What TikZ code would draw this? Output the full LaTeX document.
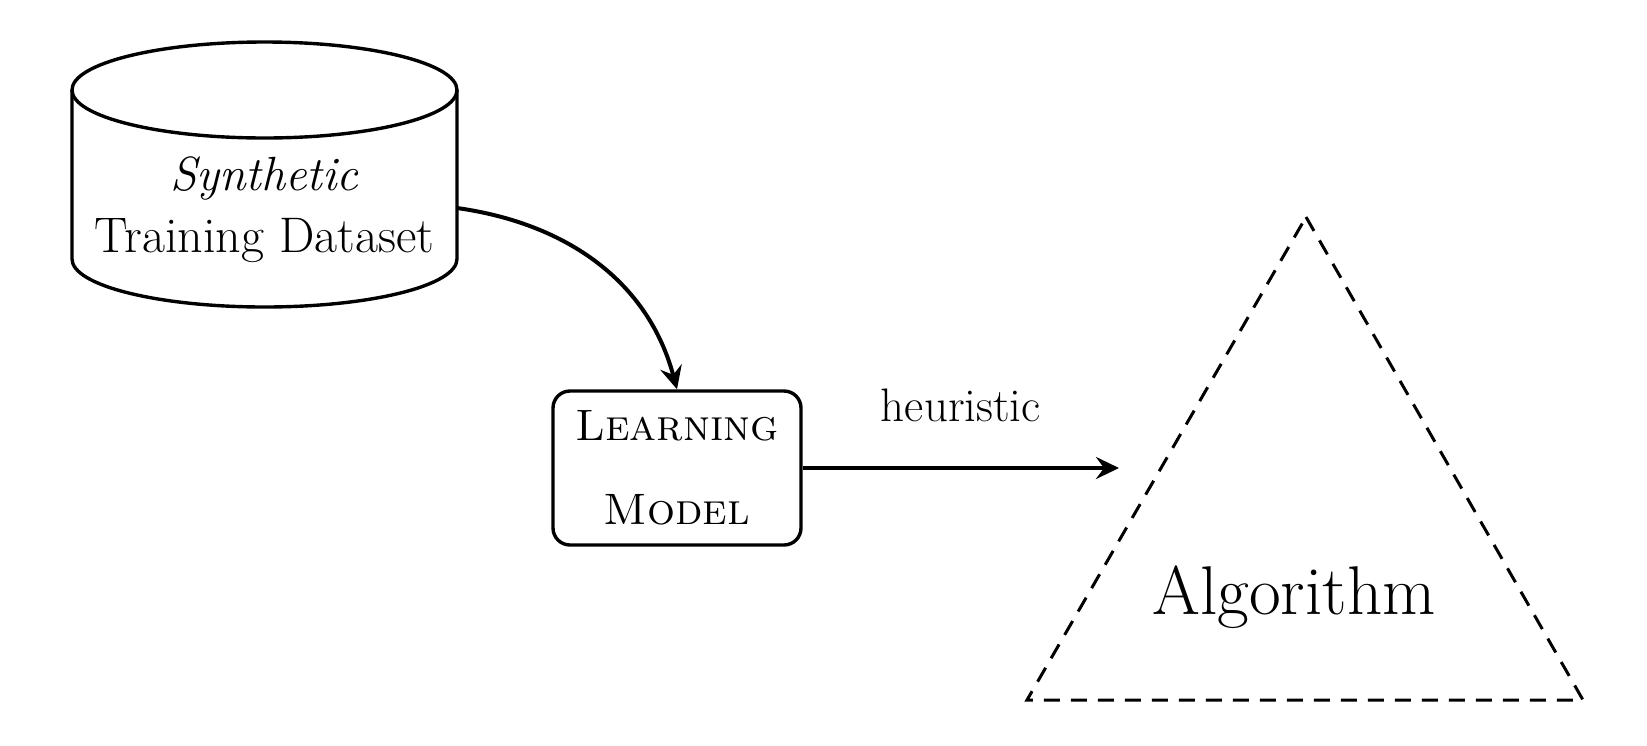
\documentclass[tikz,border=0pt]{standalone}
\usepackage{fontspec}
\usetikzlibrary{arrows.meta}
\tikzset{
  shapeline/.style={line width=1.7pt},
  conn/.style={line width=2pt,-{Stealth[length=11.5pt,width=11pt,inset=4pt]}},
  modelbox/.style={shapeline,draw,rounded corners=8.5pt,minimum width=124pt,minimum height=77pt,inner sep=0pt,align=center,font=\fontsize{22}{42}\selectfont},
  txt/.style={inner sep=0pt,font=\fontsize{25}{31}\selectfont},
  dashtri/.style={line width=1.5pt,dash pattern=on 8pt off 5.5pt},
}
\begin{document}
\begin{tikzpicture}[x=0.5pt,y=-0.5pt]
\useasboundingbox (0,0) rectangle (1647,745);
% cylinder
\draw[shapeline] (72,90) -- (72,259) arc[start angle=180,end angle=360,x radius=96.25pt,y radius=24pt] -- (457,90);
\draw[shapeline] (264.5,90) ellipse[x radius=96.25pt,y radius=24pt];
\node[txt,align=center] (data) at (264.5,210) {{\fontsize{24}{31}\selectfont\textit{Synthetic}}\\Training Dataset};
\coordinate (dataeast) at (457,208);
% learning model
\node[modelbox] (lm) at (677,468) {\textsc{Learning}\\\textsc{Model}};
% triangle
\coordinate (apex) at (1306,217);
\coordinate (bl) at (1027,700);
\coordinate (br) at (1583,700);
\draw[dashtri] (apex) -- (br) -- (bl) -- cycle;
\node[inner sep=0pt,anchor=base,font=\fontsize{34.5}{40}\selectfont] (alg) at (1294,614) {Algorithm};
\coordinate (heurtip) at (1119,468);
% connectors
\draw[conn] (dataeast) to[out=-8,in=105] (lm.north);
\draw[conn] (lm.east) -- node[inner sep=0pt,font=\fontsize{23.5}{28}\selectfont,midway,above=22pt] (heur) {heuristic} (heurtip);
\end{tikzpicture}
\end{document}
